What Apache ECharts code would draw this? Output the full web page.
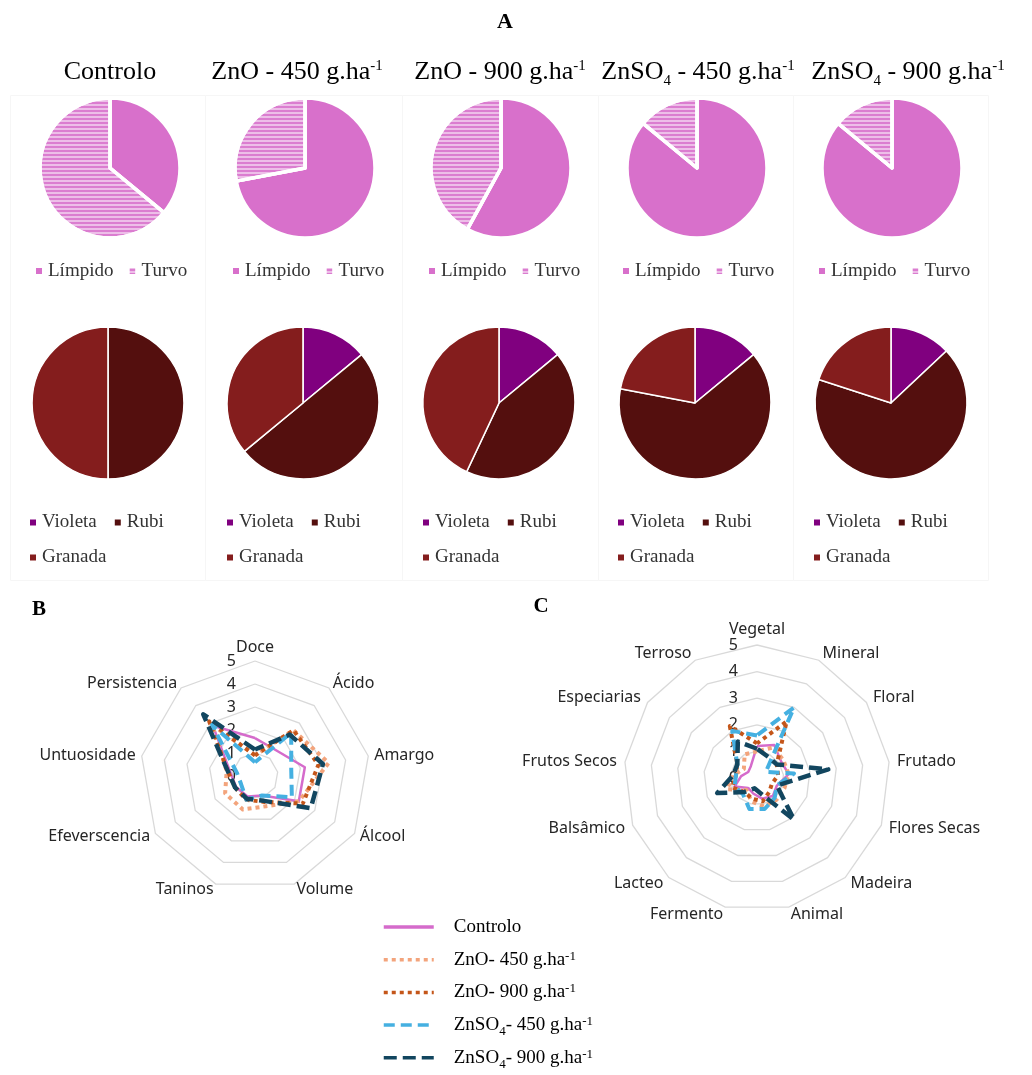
<!DOCTYPE html>
<html><head><meta charset="utf-8">
<script src="https://cdn.jsdelivr.net/npm/echarts@6/dist/echarts.min.js"></script>
<style>html,body{margin:0;padding:0;background:#fff}#c{width:1032px;height:1075px}</style>
</head><body><div id="c"></div>
<script>
// ---------- DATA ----------
const columnTitles = ['Controlo', 'ZnO - 450 g.ha{sup|-1}', 'ZnO - 900 g.ha{sup|-1}', 'ZnSO{sub|4} - 450 g.ha{sup|-1}', 'ZnSO{sub|4} - 900 g.ha{sup|-1}'];
const clarityNames = ['Límpido', 'Turvo'];
const limpido = [36, 72, 58, 86, 86];
const turvo   = [64, 28, 42, 14, 14];
const colourNames = ['Violeta', 'Rubi', 'Granada'];
const violeta = [0, 14, 14, 14, 13];
const rubi    = [50, 50, 43, 64, 67];
const granada = [50, 36, 43, 22, 20];

const seriesNames = ['Controlo', 'ZnO- 450 g.ha-1', 'ZnO- 900 g.ha-1', 'ZnSO4- 450 g.ha-1', 'ZnSO4- 900 g.ha-1'];

const tasteAxes = ['Doce', 'Ácido', 'Amargo', 'Álcool', 'Volume', 'Taninos', 'Efeverscencia', 'Untuosidade', 'Persistencia'];
const tasteControlo  = [1.65, 1.45, 2.2, 2.2, 0.9, 0.95, 0.95, 1.1, 2.85];
const tasteZnO450    = [0.9, 2.6, 3.25, 2.2, 1.4, 1.55, 1.5, 1.25, 2.9];
const tasteZnO900    = [0.9, 2.6, 2.8, 2.4, 1.2, 1.1, 1.0, 1.2, 3.1];
const tasteZnSO4450  = [0.6, 2.45, 1.6, 1.85, 0.9, 1.1, 0.7, 0.8, 2.9];
const tasteZnSO4900  = [1.15, 2.35, 3.0, 2.8, 1.15, 1.05, 1.0, 1.2, 3.5];

const aromaAxes = ['Vegetal', 'Mineral', 'Floral', 'Frutado', 'Flores Secas', 'Madeira', 'Animal', 'Fermento', 'Lacteo', 'Balsâmico', 'Frutos Secos', 'Especiarias', 'Terroso'];
const aromaControlo = [1.2, 1.4, 1.1, 1.2, 0.8, 0.9, 0.8, 0.6, 0.5, 0.9, 0.6, 0.4, 0.5];
const aromaZnO450   = [1.0, 1.3, 1.2, 1.2, 1.1, 1.1, 1.1, 0.9, 0.6, 1.2, 0.9, 0.6, 1.0];
const aromaZnO900   = [1.3, 2.4, 0.9, 0.8, 0.6, 0.7, 0.9, 0.8, 0.7, 1.0, 0.8, 0.9, 2.2];
const aromaZnSO4450 = [1.6, 3.0, 0.4, 1.4, 0.8, 1.0, 1.2, 1.2, 0.8, 0.9, 0.8, 0.9, 2.0];
const aromaZnSO4900 = [1.1, 0.9, 0.9, 2.7, 0.8, 2.1, 0.6, 0.4, 0.7, 1.6, 0.9, 0.9, 1.55];

const ringTicks = [0, 1, 2, 3, 4, 5];

// ---------- STYLE / LAYOUT ----------
const SERIF = '"Liberation Serif", "Times New Roman", serif';
const SANS = '"Noto Sans", "Open Sans", sans-serif';
const colX = [110, 305, 501, 697, 892];
const titleX = [110, 297, 500, 698, 908];
const row2X = [108, 303, 499, 695, 891];
const leg1X = [34, 231, 427, 621, 817];
const leg2X = [28, 225, 421, 616, 812];
const cellX = [10, 205, 402, 598, 793, 988];
const lineColors = ['#D56BCB', '#F3A47C', '#C4561A', '#45B0E1', '#12465F'];
const lineStyles = [
  { color: lineColors[0], width: 2.5, type: 'solid' },
  { color: lineColors[1], width: 4, type: [4, 4] },
  { color: lineColors[2], width: 4, type: [4, 4] },
  { color: lineColors[3], width: 4, type: [11, 6] },
  { color: lineColors[4], width: 4.5, type: [13, 6] }
];
const pink = '#D870CB';
const turvoDecal = { symbol: 'rect', symbolSize: 1, dashArrayX: [1, 0], dashArrayY: [1.5, 1.5], rotation: 0, color: 'rgba(255,255,255,0.5)' };
const colourColors = ['#80007F', '#540F0E', '#841D1D'];

const cw = a => [a[0], ...a.slice(1).reverse()];
const supRich = {
  sup: { fontSize: 15, verticalAlign: 'top', fontFamily: SERIF, fill: '#000', color: '#000', padding: [4, 0, 0, 0] },
  sub: { fontSize: 15, verticalAlign: 'bottom', fontFamily: SERIF, fill: '#000', color: '#000' }
};

const chart = echarts.init(document.getElementById('c'));

const series = [];
// hidden line series only to give the legend its line icons
seriesNames.forEach((n, k) => series.push({
  type: 'line', name: n, data: [], symbol: 'none', xAxisIndex: 0, yAxisIndex: 0,
  lineStyle: Object.assign({}, lineStyles[k]), itemStyle: { color: lineColors[k] }
}));

for (let i = 0; i < 5; i++) {
  series.push({
    type: 'pie', center: [colX[i], 168], radius: 70, startAngle: 90, clockwise: true,
    silent: true, label: { show: false }, labelLine: { show: false },
    itemStyle: { borderColor: '#fff', borderWidth: 3.5 },
    emphasis: { disabled: true },
    data: [
      { name: clarityNames[0], value: limpido[i], itemStyle: { color: pink } },
      { name: clarityNames[1], value: turvo[i], itemStyle: { color: '#DB7DD0', decal: turvoDecal } }
    ]
  });
  series.push({
    type: 'pie', center: [row2X[i], 403], radius: 76, startAngle: 90, clockwise: true,
    silent: true, label: { show: false }, labelLine: { show: false },
    itemStyle: { borderColor: '#fff', borderWidth: 1.6 },
    emphasis: { disabled: true },
    data: [
      { name: colourNames[0], value: violeta[i], itemStyle: { color: colourColors[0] } },
      { name: colourNames[1], value: rubi[i], itemStyle: { color: colourColors[1] } },
      { name: colourNames[2], value: granada[i], itemStyle: { color: colourColors[2] } }
    ]
  });
}

const tasteSeries = [tasteControlo, tasteZnO450, tasteZnO900, tasteZnSO4450, tasteZnSO4900];
const aromaSeries = [aromaControlo, aromaZnO450, aromaZnO900, aromaZnSO4450, aromaZnSO4900];
[tasteSeries, aromaSeries].forEach((set, r) => {
  series.push({
    type: 'radar', radarIndex: r, symbol: 'none', silent: true,
    data: set.map((s, k) => ({ name: seriesNames[k], value: cw(s), lineStyle: lineStyles[k], itemStyle: { color: lineColors[k] } }))
  });
});
[0, 1].forEach(p => series.push({ type: 'scatter', coordinateSystem: 'polar', polarIndex: p, data: [] }));

const radarCommon = {
  shape: 'polygon', splitNumber: ringTicks.length - 1, startAngle: 90, nameGap: 6,
  axisName: { color: '#262626', fontSize: 16, fontFamily: SANS },
  axisLine: { show: false }, axisTick: { show: false }, axisLabel: { show: false },
  splitArea: { show: false },
  splitLine: { lineStyle: { color: '#D9D9D9', width: 1.3 } }
};
const mkInd = axes => cw(axes).map(n => ({ name: n, min: ringTicks[0], max: ringTicks[ringTicks.length - 1] }));

const radiusAxisCommon = {
  type: 'value', min: ringTicks[0], max: ringTicks[ringTicks.length - 1], interval: ringTicks[1] - ringTicks[0],
  axisLine: { show: false }, axisTick: { show: false }, splitLine: { show: false },
  axisLabel: { show: true, color: '#262626', fontSize: 16, fontFamily: SANS, margin: 19 }
};

const legends = [];
for (let i = 0; i < 5; i++) {
  legends.push({
    data: clarityNames, left: leg1X[i], top: 261, padding: 0, itemGap: 14, itemWidth: 8, itemHeight: 8, icon: 'rect',
    selectedMode: false, textStyle: { fontFamily: SERIF, fontSize: 19, color: '#333', lineHeight: 20 }
  });
  legends.push({
    data: colourNames, left: leg2X[i], top: 513, width: 170, padding: 0, itemGap: 16, itemWidth: 8, itemHeight: 8, icon: 'rect',
    selectedMode: false, textStyle: { fontFamily: SERIF, fontSize: 19, color: '#333', lineHeight: 17 }
  });
}
legends.push({
  data: seriesNames, orient: 'vertical', left: 382, top: 914, padding: 0, itemGap: 6.7, itemWidth: 50, itemHeight: 26,
  selectedMode: false,
  itemStyle: { opacity: 0 },
  lineStyle: { width: 3.5 },
  formatter: n => n.replace('SO4', 'SO{sub|4}').replace('-1', '{sup|-1}'),
  textStyle: {
    fontFamily: SERIF, fontSize: 19, color: '#000', lineHeight: 26, padding: [0, 0, 0, 15],
    rich: {
      sup: { fontSize: 13, verticalAlign: 'top', fontFamily: SERIF, color: '#000', padding: [3, 0, 0, 0] },
      sub: { fontSize: 13, verticalAlign: 'bottom', fontFamily: SERIF, color: '#000' }
    }
  }
});

const graphics = [];
// very faint panel frames
for (let i = 0; i < 5; i++) {
  graphics.push({ type: 'rect', silent: true, z: -10,
    shape: { x: cellX[i] + 0.5, y: 95.5, width: cellX[i + 1] - cellX[i], height: 485 },
    style: { fill: 'none', stroke: '#F6F6F6', lineWidth: 1 } });
}
graphics.push(
  { type: 'text', x: 505, y: 22, style: { text: 'A', font: 'bold 22px ' + SERIF, fill: '#000', align: 'center', verticalAlign: 'middle' } },
  { type: 'text', x: 39, y: 610, style: { text: 'B', font: 'bold 21px ' + SERIF, fill: '#000', align: 'center', verticalAlign: 'middle' } },
  { type: 'text', x: 541, y: 607, style: { text: 'C', font: 'bold 21px ' + SERIF, fill: '#000', align: 'center', verticalAlign: 'middle' } }
);
columnTitles.forEach((t, i) => graphics.push({
  type: 'text', x: titleX[i], y: 72,
  style: { text: t, font: '26px ' + SERIF, fill: '#000', align: 'center', verticalAlign: 'middle', lineHeight: 34, rich: supRich }
}));

chart.setOption({
  backgroundColor: '#fff',
  animation: false,
  grid: { show: false, left: 0, top: 0, width: 1, height: 1 },
  xAxis: { show: false, type: 'value' },
  yAxis: { show: false, type: 'value' },
  polar: [{ center: [255, 776], radius: 115 }, { center: [757, 778], radius: 133 }],
  angleAxis: [
    { polarIndex: 0, show: false, type: 'value', startAngle: 90, min: 0, max: 360 },
    { polarIndex: 1, show: false, type: 'value', startAngle: 90, min: 0, max: 360 }
  ],
  radiusAxis: [Object.assign({ polarIndex: 0 }, radiusAxisCommon), Object.assign({ polarIndex: 1 }, radiusAxisCommon)],
  radar: [
    Object.assign({ center: [255, 776], radius: 115, indicator: mkInd(tasteAxes) }, radarCommon),
    Object.assign({ center: [757, 778], radius: 133, indicator: mkInd(aromaAxes) }, radarCommon, { nameGap: 8 })
  ],
  legend: legends,
  graphic: graphics,
  series: series
});
</script></body></html>
